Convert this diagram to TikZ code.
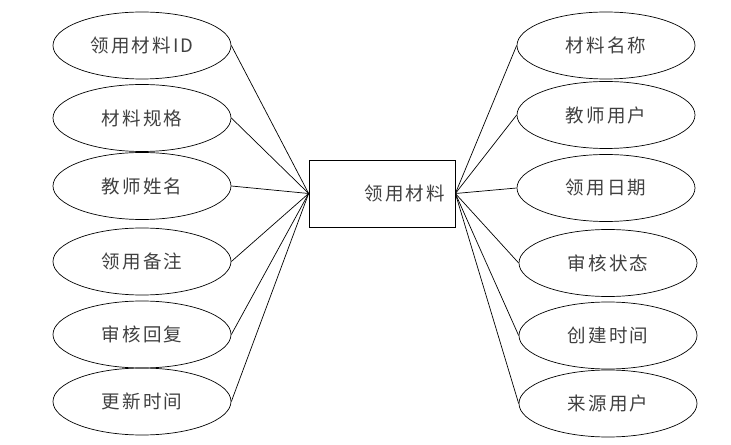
\documentclass[tikz,border=0pt]{standalone}
\usepackage{fontspec}
\newfontfamily\cjk[LetterSpace=12]{Noto Sans CJK SC}
\usepackage{tikz}
\usetikzlibrary{shapes.geometric}

\begin{document}
\begin{tikzpicture}[x=1bp,y=-1bp,line width=0.7bp,
  font=\cjk\fontsize{18.5bp}{21bp}\selectfont,
  attr/.style={ellipse,draw,minimum width=178bp,minimum height=67bp,inner sep=0pt,text=black!75},
  ent/.style={rectangle,draw,minimum width=146bp,minimum height=67bp,text=black!75,
    text width=126bp,inner xsep=10bp,align=right}]
  \useasboundingbox (0,0) rectangle (731,445);
  % entity
  \node[ent] (lyc) at (382,193.5) {领用材料};
  % attributes, left side
  \node[attr] (l1) at (142,45.5)  {领用材料ID};
  \node[attr] (l2) at (142,118)   {材料规格};
  \node[attr] (l3) at (142,186)   {教师姓名};
  \node[attr] (l4) at (142,261.5) {领用备注};
  \node[attr] (l5) at (142,334.5) {审核回复};
  \node[attr] (l6) at (142,401.5) {更新时间};
  % attributes, right side
  \node[attr] (r1) at (606,45.5)  {材料名称};
  \node[attr] (r2) at (606,115)   {教师用户};
  \node[attr] (r3) at (606,188)   {领用日期};
  \node[attr] (r4) at (608,263)   {审核状态};
  \node[attr] (r5) at (608,335.5) {创建时间};
  \node[attr] (r6) at (608,403.5) {来源用户};
  \foreach \i in {1,...,6} {
    \draw (lyc.west) -- (l\i.east);
    \draw (lyc.east) -- (r\i.west);
  }
\end{tikzpicture}
\end{document}
